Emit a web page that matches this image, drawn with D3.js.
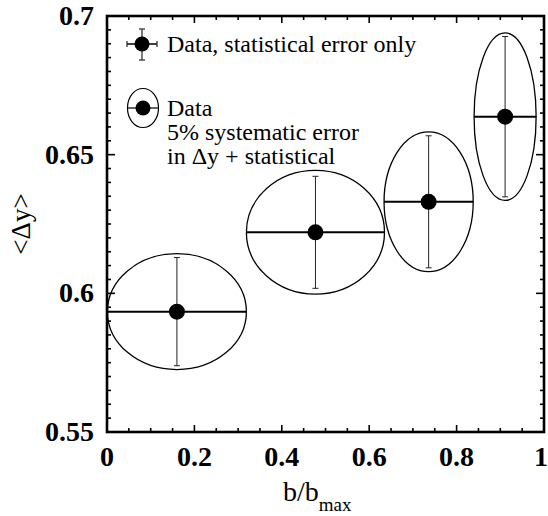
<!DOCTYPE html>
<html><head><meta charset="utf-8">
<script src="https://cdn.jsdelivr.net/npm/d3@7"></script>
<style>
body{margin:0;background:#fff}svg{display:block}
</style>
</head><body><div id="chart"></div>
<script>
// Data
const bValues   = [0.160, 0.477, 0.736, 0.911];   // b/bmax centres
const dyValues  = [0.5934, 0.6220, 0.6330, 0.6637]; // <Δy>
const bErr      = [0.159, 0.158, 0.102, 0.071];   // half-width in b/bmax
const statErr   = [0.0195, 0.0202, 0.0238, 0.0289]; // statistical error
const totErr    = [0.0209, 0.0223, 0.0252, 0.0302]; // 5% syst + stat (ellipse)
const xTicks = [0, 0.2, 0.4, 0.6, 0.8, 1];
const xTickLabels = ["0", "0.2", "0.4", "0.6", "0.8", "1"];
const yTicks = [0.55, 0.6, 0.65, 0.7];
const yTickLabels = ["0.55", "0.6", "0.65", "0.7"];
const legendLabels = ["Data, statistical error only", "Data", "5% systematic error", "in \u0394y + statistical"];

const W = 548, H = 516;
const m = {left: 107, top: 16, right: 4, bottom: 84};
const FONT = '"Liberation Serif", "Times New Roman", Times, serif';

const svg = d3.select("#chart").append("svg").attr("width", W).attr("height", H);
const x = d3.scaleLinear().domain([0, 1]).range([m.left, W - m.right]);
const y = d3.scaleLinear().domain([0.55, 0.7]).range([H - m.bottom, m.top]);

// ticks (inward, all four sides)
const xMinor = d3.range(0, 1.0001, 0.05).filter(v => !xTicks.some(t => Math.abs(t - v) < 1e-9));
const yMinor = d3.range(0.55, 0.70001, 0.005).filter(v => !yTicks.some(t => Math.abs(t - v) < 1e-9));
const tickG = svg.append("g").attr("stroke", "#000").attr("stroke-width", 1.6);
const x0 = x(0), x1 = x(1), y0 = y(0.55), y1 = y(0.7);
function addX(vals, len) {
  vals.forEach(v => {
    tickG.append("line").attr("x1", x(v)).attr("x2", x(v)).attr("y1", y0).attr("y2", y0 - len);
    tickG.append("line").attr("x1", x(v)).attr("x2", x(v)).attr("y1", y1).attr("y2", y1 + len);
  });
}
function addY(vals, len) {
  vals.forEach(v => {
    tickG.append("line").attr("y1", y(v)).attr("y2", y(v)).attr("x1", x0).attr("x2", x0 + len);
    tickG.append("line").attr("y1", y(v)).attr("y2", y(v)).attr("x1", x1).attr("x2", x1 - len);
  });
}
addX(xTicks, 7); addX(xMinor, 4);
addY(yTicks, 8); addY(yMinor, 4);

// frame
svg.append("rect").attr("x", x0).attr("y", y1).attr("width", x1 - x0).attr("height", y0 - y1)
  .attr("fill", "none").attr("stroke", "#000").attr("stroke-width", 2.6);

// tick labels
svg.append("g").selectAll("text").data(xTicks).join("text")
  .attr("x", d => x(d)).attr("y", y0 + 34).attr("text-anchor", "middle")
  .style("font-family", FONT).attr("font-weight", "bold").attr("font-size", 28)
  .attr("dx", d => d === 1 ? -3 : 0)
  .text((d, i) => xTickLabels[i]);
svg.append("g").selectAll("text").data(yTicks).join("text")
  .attr("x", x0 - 13).attr("y", d => y(d) + 9).attr("text-anchor", "end")
  .style("font-family", FONT).attr("font-weight", "bold").attr("font-size", 28)
  .text((d, i) => yTickLabels[i]);

// axis titles
const xt = svg.append("text").attr("x", 283).attr("y", 501).style("font-family", FONT).attr("font-size", 28);
xt.append("tspan").text("b/b");
xt.append("tspan").attr("dy", 10).attr("font-size", 19).text("max");
svg.append("text").attr("transform", `translate(30,${(y0 + y1) / 2}) rotate(-90)`)
  .attr("text-anchor", "middle").style("font-family", FONT).attr("font-size", 27)
  .text("<\u0394y>");

// data
const pts = bValues.map((b, i) => ({b, v: dyValues[i], bx: bErr[i], s: statErr[i], t: totErr[i]}));
const g = svg.append("g");
g.selectAll("ellipse").data(pts).join("ellipse")
  .attr("cx", d => x(d.b)).attr("cy", d => y(d.v))
  .attr("rx", d => x(d.b + d.bx) - x(d.b)).attr("ry", d => y(d.v - d.t) - y(d.v))
  .attr("fill", "none").attr("stroke", "#000").attr("stroke-width", 1.3);
g.selectAll("line.h").data(pts).join("line").attr("class", "h")
  .attr("x1", d => x(d.b - d.bx)).attr("x2", d => x(d.b + d.bx))
  .attr("y1", d => y(d.v)).attr("y2", d => y(d.v))
  .attr("stroke", "#000").attr("stroke-width", 2);
g.selectAll("line.v").data(pts).join("line").attr("class", "v")
  .attr("x1", d => x(d.b)).attr("x2", d => x(d.b))
  .attr("y1", d => y(d.v - d.s)).attr("y2", d => y(d.v + d.s))
  .attr("stroke", "#222").attr("stroke-width", 1);
["top", "bot"].forEach(k => {
  g.selectAll("line.c" + k).data(pts).join("line").attr("class", "c" + k)
    .attr("x1", d => x(d.b) - 3).attr("x2", d => x(d.b) + 3)
    .attr("y1", d => y(k === "top" ? d.v + d.s : d.v - d.s))
    .attr("y2", d => y(k === "top" ? d.v + d.s : d.v - d.s))
    .attr("stroke", "#222").attr("stroke-width", 1);
});
g.selectAll("circle").data(pts).join("circle")
  .attr("cx", d => x(d.b)).attr("cy", d => y(d.v)).attr("r", 8).attr("fill", "#000");

// legend
const L = svg.append("g");
const lx = 142, ly1 = 44, ly2 = 108;
L.append("line").attr("x1", lx - 15).attr("x2", lx + 15).attr("y1", ly1).attr("y2", ly1).attr("stroke", "#000").attr("stroke-width", 1.5);
L.append("line").attr("x1", lx).attr("x2", lx).attr("y1", ly1 - 15).attr("y2", ly1 + 16).attr("stroke", "#333").attr("stroke-width", 1.3);
[[lx - 15, ly1 - 3, lx - 15, ly1 + 3], [lx + 15, ly1 - 3, lx + 15, ly1 + 3],
 [lx - 3, ly1 - 15, lx + 3, ly1 - 15], [lx - 3, ly1 + 16, lx + 3, ly1 + 16]].forEach(c =>
  L.append("line").attr("x1", c[0]).attr("y1", c[1]).attr("x2", c[2]).attr("y2", c[3]).attr("stroke", "#333").attr("stroke-width", 1.3));
L.append("circle").attr("cx", lx).attr("cy", ly1).attr("r", 7.5).attr("fill", "#000");
L.append("ellipse").attr("cx", lx + 1).attr("cy", ly2).attr("rx", 15.5).attr("ry", 19.5)
  .attr("fill", "none").attr("stroke", "#000").attr("stroke-width", 1.2);
L.append("line").attr("x1", lx - 14).attr("x2", lx + 16).attr("y1", ly2).attr("y2", ly2).attr("stroke", "#333").attr("stroke-width", 1.5);
L.append("circle").attr("cx", lx + 1).attr("cy", ly2).attr("r", 7.5).attr("fill", "#000");

const ltx = 167;
L.append("text").attr("x", ltx).attr("y", 52).style("font-family", FONT).attr("font-size", 24).text(legendLabels[0]);
[116, 140, 164].forEach((yy, i) =>
  L.append("text").attr("x", ltx).attr("y", yy).style("font-family", FONT).attr("font-size", 24)
    .text(legendLabels[i + 1]));
</script></body></html>
